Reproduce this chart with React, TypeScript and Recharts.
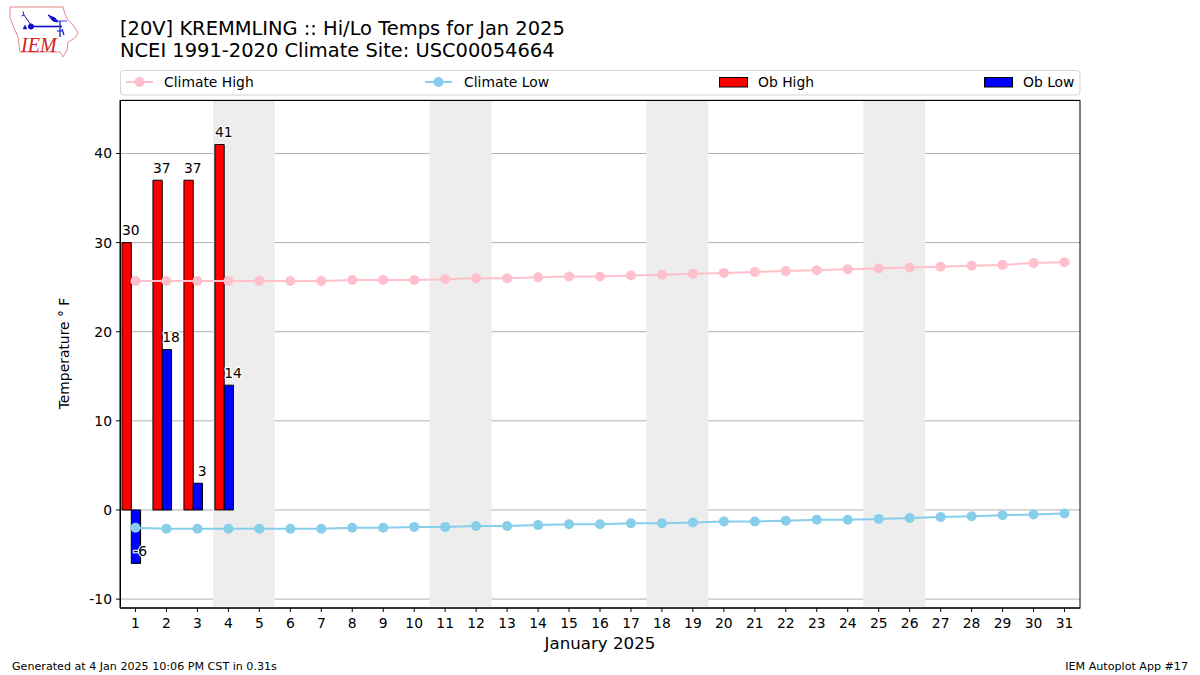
import React from "react";
import {
  ComposedChart,
  Bar,
  Line,
  XAxis,
  YAxis,
  CartesianGrid,
  ReferenceArea,
  LabelList,
} from "recharts";

const days = [1,2,3,4,5,6,7,8,9,10,11,12,13,14,15,16,17,18,19,20,21,22,23,24,25,26,27,28,29,30,31];
const climateHigh = [25.7,25.7,25.7,25.7,25.7,25.7,25.7,25.8,25.8,25.8,25.9,26.0,26.0,26.1,26.2,26.2,26.3,26.4,26.5,26.6,26.7,26.8,26.9,27.0,27.1,27.2,27.3,27.4,27.5,27.7,27.8];
const climateLow = [-2.0,-2.1,-2.1,-2.1,-2.1,-2.1,-2.1,-2.0,-2.0,-1.9,-1.9,-1.8,-1.8,-1.7,-1.6,-1.6,-1.5,-1.5,-1.4,-1.3,-1.3,-1.2,-1.1,-1.1,-1.0,-0.9,-0.8,-0.7,-0.6,-0.5,-0.4];
const obHigh = [30,37,37,41];
const obLow = [-6,18,3,14];
const weekends = [[4,5],[11,12],[18,19],[25,26]];
const yTicks = [-10,0,10,20,30,40];

const rows = days.map((day, i) => ({
  day,
  climateHigh: climateHigh[i],
  climateLow: climateLow[i],
  obHigh: i < obHigh.length ? obHigh[i] : null,
  obLow: i < obLow.length ? obLow[i] : null,
  spacer: null,
}));

const FONT = "'DejaVu Sans', sans-serif";
const PINK = "#ffc0cb";
const SKY = "#87ceeb";
const GRID = "#b0b0b0";
const BAR_W = 9.29;

const ObLabel = (props: any) => {
  const { x, y, value, dx } = props;
  if (value === null || value === undefined || x === undefined) return null;
  return (
    <text
      x={x + dx}
      y={y - 7.5}
      textAnchor="middle"
      fontFamily={FONT}
      fontSize={13.89}
      fill="#000"
      stroke="#fff"
      strokeWidth={2.5}
      strokeOpacity={0.9}
      style={{ paintOrder: "stroke" }}
    >
      {String(value)}
    </text>
  );
};

const Logo = () => (
  <g>
    <path
      d="M10 7 L63 7 L65 14 L68 20 L73 25 L78 33 L75 38 L68 42 L67 50 L63 57 L60 52 L20 52 L18 37 L14 28 L10 18 Z"
      fill="#fff" stroke="#e58a8a" strokeWidth={1}
    />
    <g stroke="#1010d0" fill="#1010d0">
      <path d="M31 26.5 L62 26.5" strokeWidth={1.6} />
      <circle cx={31} cy={26.5} r={2.6} />
      <path d="M31 25 L24 15 M24 15 L21.5 16 M24 15 L23 11.5" strokeWidth={1} fill="none" />
      <path d="M48 15 L55 18 L58 22 L53 21 Z" strokeWidth={1} />
      <path d="M57 21 L67 21" strokeWidth={0.8} />
      <path d="M60 21 L60 37 M57 31 L63 31 M62 29 L64 35" strokeWidth={1.2} fill="none" />
      <path d="M23 29 L25 25 L27 29 Z" strokeWidth={0.5} />
    </g>
    <text x={21} y={52} fontFamily="'Liberation Serif', serif" fontStyle="italic" fontSize={20} fill="#d62020">IEM</text>
  </g>
);

const Overlay = () => (
  <svg width={1200} height={675} style={{ position: "absolute", left: 0, top: 0, pointerEvents: "none" }}>
    <Logo />
    <text x={120} y={35} fontFamily={FONT} fontSize={19.44} fill="#000">[20V] KREMMLING :: Hi/Lo Temps for Jan 2025</text>
    <text x={120} y={57} fontFamily={FONT} fontSize={19.44} fill="#000">NCEI 1991-2020 Climate Site: USC00054664</text>

    <rect x={120.5} y={70.5} width={959.5} height={24.5} rx={3} fill="#fff" stroke="#d5d5d5" />
    <line x1={126} x2={153} y1={82} y2={82} stroke={PINK} strokeWidth={2} />
    <circle cx={139.5} cy={82} r={5} fill={PINK} />
    <text x={164} y={86.5} fontFamily={FONT} fontSize={13.89} fill="#000">Climate High</text>
    <line x1={425} x2={452} y1={82} y2={82} stroke={SKY} strokeWidth={2} />
    <circle cx={438.5} cy={82} r={5} fill={SKY} />
    <text x={464} y={86.5} fontFamily={FONT} fontSize={13.89} fill="#000">Climate Low</text>
    <rect x={719.5} y={77.5} width={28} height={9.5} fill="#ff0000" stroke="#000" />
    <text x={758} y={86.5} fontFamily={FONT} fontSize={13.89} fill="#000">Ob High</text>
    <rect x={984.5} y={77.5} width={28} height={9.5} fill="#0000ff" stroke="#000" />
    <text x={1023} y={86.5} fontFamily={FONT} fontSize={13.89} fill="#000">Ob Low</text>

    <rect x={120.5} y={100.5} width={959.5} height={507.5} fill="none" stroke="#000" strokeWidth={1} />

    <text x={600} y={649} textAnchor="middle" fontFamily={FONT} fontSize={16.67} fill="#000">January 2025</text>
    <text transform="translate(69 353.5) rotate(-90)" textAnchor="middle" fontFamily={FONT} fontSize={13.89} fill="#000">Temperature ° F</text>
    <text x={12} y={670} fontFamily={FONT} fontSize={11.11} fill="#000">Generated at 4 Jan 2025 10:06 PM CST in 0.31s</text>
    <text x={1188} y={670} textAnchor="end" fontFamily={FONT} fontSize={11.11} fill="#000">IEM Autoplot App #17</text>
  </svg>
);

const tickStyle = { fontFamily: FONT, fontSize: 13.89, fill: "#000" };

export default function App() {
  return (
    <div style={{ position: "absolute", left: 0, top: 0, width: 1200, height: 675, background: "#fff" }}>
      <ComposedChart
        width={1200}
        height={675}
        data={rows}
        margin={{ top: 100, right: 120, bottom: 0, left: 60 }}
        barGap={0}
        barSize={BAR_W}
      >
        <XAxis
          dataKey="day"
          type="category"
          interval={0}
          height={67}
          tick={tickStyle}
          tickSize={4}
          tickMargin={6}
          stroke="#000"
          tickLine={{ stroke: "#000" }}
          axisLine={{ stroke: "#000" }}
        />
        <YAxis
          type="number"
          domain={[-11, 46]}
          ticks={yTicks}
          width={60}
          allowDataOverflow
          tick={tickStyle}
          tickSize={4}
          tickMargin={4}
          tickLine={{ stroke: "#000" }}
          axisLine={{ stroke: "#000" }}
        />

        {weekends.map(([a, b]) => (
          <ReferenceArea key={a} x1={a} x2={b} fill="#ededed" fillOpacity={1} stroke="none" />
        ))}

        <Bar dataKey="obHigh" fill="#ff0000" stroke="#000" strokeWidth={1} isAnimationActive={false} />
        <Bar dataKey="obLow" fill="#0000ff" stroke="#000" strokeWidth={1} isAnimationActive={false} />
        <Bar dataKey="spacer" fill="none" isAnimationActive={false} />

        <CartesianGrid vertical={false} stroke={GRID} strokeWidth={1} />

        <Line dataKey="climateHigh" stroke={PINK} strokeWidth={2} dot={{ r: 5, fill: PINK, stroke: PINK, strokeWidth: 0 }} activeDot={false} isAnimationActive={false} />
        <Line dataKey="climateLow" stroke={SKY} strokeWidth={2} dot={{ r: 5, fill: SKY, stroke: SKY, strokeWidth: 0 }} activeDot={false} isAnimationActive={false} />

        <Line dataKey="obHigh" stroke="none" dot={false} activeDot={false} isAnimationActive={false}>
          <LabelList dataKey="obHigh" content={(p: any) => <ObLabel {...p} dx={-4.65} />} />
        </Line>
        <Line dataKey="obLow" stroke="none" dot={false} activeDot={false} isAnimationActive={false}>
          <LabelList dataKey="obLow" content={(p: any) => <ObLabel {...p} dx={4.65} />} />
        </Line>
      </ComposedChart>
      <Overlay />
    </div>
  );
}
